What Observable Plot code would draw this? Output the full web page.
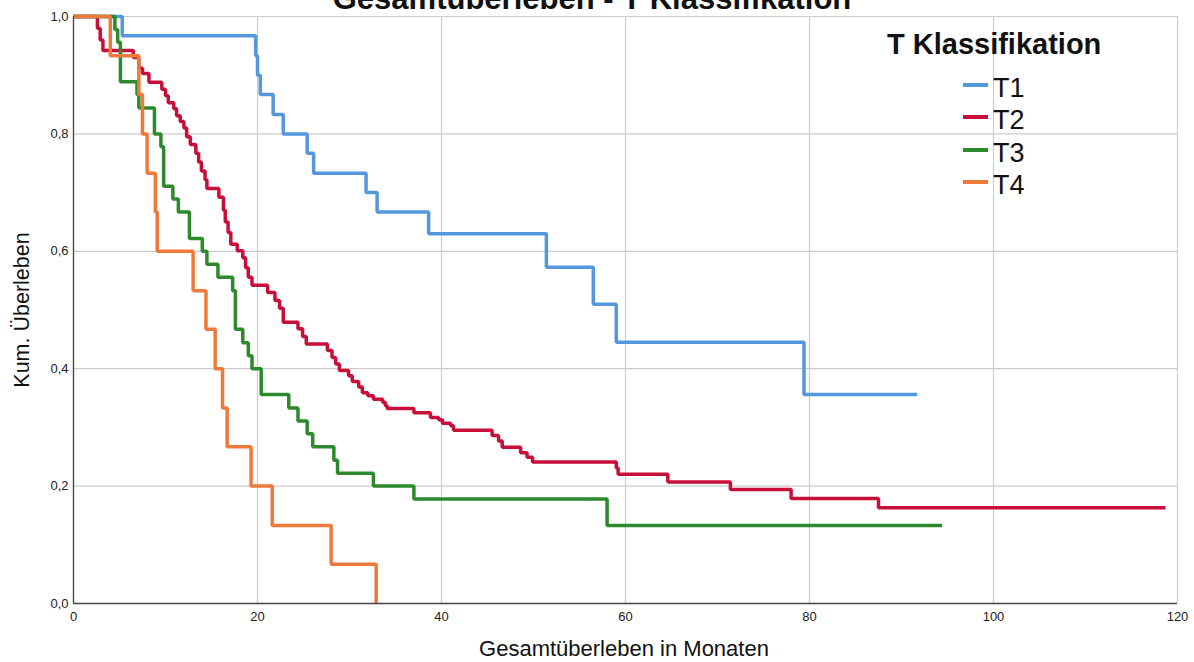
<!DOCTYPE html>
<html><head><meta charset="utf-8">
<script src="https://cdn.jsdelivr.net/npm/d3@7"></script>
<script src="https://cdn.jsdelivr.net/npm/@observablehq/plot@0.6"></script>
<style>
body{margin:0;background:#fff;font-family:"Liberation Sans",Arial,sans-serif;color:#111;}
#wrap{position:relative;width:1194px;height:662px;overflow:hidden;}
#chart{position:absolute;left:0;top:0;}
.abs{position:absolute;white-space:nowrap;}
#title{left:592px;top:-17px;transform:translateX(-50%);font-weight:bold;font-size:31px;line-height:31px;}
#xlab{left:624px;top:649px;transform:translate(-50%,-50%);font-size:22px;line-height:22px;}
#ylab{left:22px;top:310px;transform:translate(-50%,-50%) rotate(-90deg);font-size:21.5px;line-height:22px;}
#legtitle{left:887px;top:30px;font-weight:bold;font-size:29px;line-height:29px;}
.legrow{position:absolute;left:963px;height:32px;font-size:27px;line-height:32px;}
.legline{position:absolute;left:0;width:25px;height:4px;top:11px;}
.legtxt{position:absolute;left:30px;top:0;}
</style>
</head><body>
<div id="wrap">
  <div id="chart"></div>
  <div id="title" class="abs">Gesamtüberleben - T Klassifikation</div>
  <div id="xlab" class="abs">Gesamtüberleben in Monaten</div>
  <div id="ylab" class="abs">Kum. Überleben</div>
  <div id="legtitle" class="abs">T Klassifikation</div>
  <div id="legend"></div>
</div>
<script>
const series = ["T1", "T2", "T3", "T4"];
const colors = ["#5597dd", "#c80f3a", "#2c8a2c", "#ee7a3a"];
const xTicks = [0, 20, 40, 60, 80, 100, 120];
const yTicks = [0, 0.2, 0.4, 0.6, 0.8, 1.0];

const t1Time = [0, 5.3, 19.8, 20.0, 20.3, 21.7, 22.8, 25.4, 26.1, 31.8, 33.0, 38.6, 51.4, 56.5, 59.0, 79.4, 91.7];
const t1Surv = [1, 0.967, 0.933, 0.9, 0.867, 0.833, 0.8, 0.767, 0.733, 0.7, 0.667, 0.63, 0.573, 0.51, 0.445, 0.356, 0.356];

const t2Time = [0, 2.6, 2.9, 3.2, 6.5, 7.1, 7.5, 8.2, 9.6, 10.0, 10.3, 10.9, 11.2, 11.6, 12.0, 12.3, 12.7, 13.3, 13.6, 13.9, 14.3, 14.5, 15.8, 16.3, 16.5, 16.8, 17.1, 17.8, 18.4, 18.7, 19.0, 19.4, 21.1, 21.9, 22.4, 22.8, 24.4, 24.9, 25.3, 27.6, 28.1, 28.5, 28.9, 29.9, 30.3, 31.0, 31.4, 32.0, 32.6, 33.6, 33.9, 34.1, 37.0, 38.8, 39.7, 40.1, 41.0, 41.3, 45.5, 46.2, 46.6, 48.6, 49.3, 49.9, 59.0, 59.2, 64.6, 71.4, 78.0, 87.5, 118.7];
const t2Surv = [1, 0.98, 0.96, 0.942, 0.93, 0.912, 0.903, 0.888, 0.876, 0.865, 0.853, 0.843, 0.831, 0.821, 0.81, 0.795, 0.782, 0.767, 0.752, 0.737, 0.722, 0.707, 0.692, 0.67, 0.65, 0.632, 0.612, 0.601, 0.589, 0.572, 0.556, 0.542, 0.53, 0.516, 0.503, 0.479, 0.468, 0.455, 0.442, 0.431, 0.419, 0.408, 0.397, 0.388, 0.378, 0.369, 0.359, 0.354, 0.348, 0.343, 0.337, 0.332, 0.325, 0.317, 0.313, 0.307, 0.303, 0.295, 0.286, 0.277, 0.266, 0.257, 0.249, 0.241, 0.231, 0.22, 0.207, 0.194, 0.179, 0.163, 0.163];

const t3Time = [0, 4.5, 4.8, 5.1, 6.9, 7.1, 8.8, 9.5, 9.8, 10.8, 11.4, 12.6, 14.0, 14.5, 15.7, 17.3, 17.6, 18.4, 19.0, 19.4, 20.4, 23.4, 24.4, 25.4, 26.0, 28.3, 28.7, 32.6, 37.0, 58.0, 94.4];
const t3Surv = [1, 0.978, 0.956, 0.889, 0.867, 0.844, 0.8, 0.778, 0.711, 0.689, 0.667, 0.622, 0.6, 0.578, 0.556, 0.533, 0.467, 0.444, 0.422, 0.4, 0.356, 0.333, 0.311, 0.289, 0.267, 0.244, 0.222, 0.2, 0.178, 0.133, 0.133];

const t4Time = [0, 4.0, 7.1, 7.5, 8.0, 8.9, 9.1, 13.0, 14.4, 15.4, 16.2, 16.7, 19.3, 21.6, 28.0, 32.9];
const t4Surv = [1, 0.933, 0.867, 0.8, 0.733, 0.667, 0.6, 0.533, 0.467, 0.4, 0.333, 0.267, 0.2, 0.133, 0.067, 0];

const times = [t1Time, t2Time, t3Time, t4Time];
const survs = [t1Surv, t2Surv, t3Surv, t4Surv];
const rows = series.flatMap((g, i) => times[i].map((t, j) => ({group: g, time: t, surv: survs[i][j]})));

const fmtY = d => d.toFixed(1).replace(".", ",");

const chart = Plot.plot({
  width: 1194, height: 662,
  marginTop: 16, marginBottom: 59, marginLeft: 73, marginRight: 17,
  style: {fontFamily: "'Liberation Sans', Arial, sans-serif", fontSize: "13px", color: "#222", background: "#fff"},
  x: {domain: [0, 120]},
  y: {domain: [0, 1]},
  color: {domain: series, range: colors},
  marks: [
    Plot.gridX(xTicks, {stroke: "#cccccc", strokeOpacity: 1, strokeWidth: 1.2}),
    Plot.gridY(yTicks, {stroke: "#cccccc", strokeOpacity: 1, strokeWidth: 1.2}),
    Plot.axisX(xTicks, {tickSize: 0, tickPadding: 8, tickFormat: d => String(d), label: null}),
    Plot.axisY(yTicks, {tickSize: 0, tickPadding: 5, tickFormat: fmtY, label: null}),
    Plot.line(rows, {x: "time", y: "surv", z: "group", stroke: "group", curve: "step-after", strokeWidth: 3.5, strokeLinejoin: "miter", strokeLinecap: "butt"}),
    Plot.ruleX([0], {stroke: "#444", strokeWidth: 1.3}),
    Plot.ruleY([0], {stroke: "#444", strokeWidth: 1.3})
  ]
});
document.getElementById("chart").appendChild(chart);

const leg = document.getElementById("legend");
series.forEach((s, i) => {
  const row = document.createElement("div");
  row.className = "legrow";
  row.style.top = (72 + i * 32.3) + "px";
  const ln = document.createElement("div");
  ln.className = "legline";
  ln.style.background = colors[i];
  const tx = document.createElement("div");
  tx.className = "legtxt";
  tx.textContent = s;
  row.appendChild(ln); row.appendChild(tx);
  leg.appendChild(row);
});
</script>
</body></html>
